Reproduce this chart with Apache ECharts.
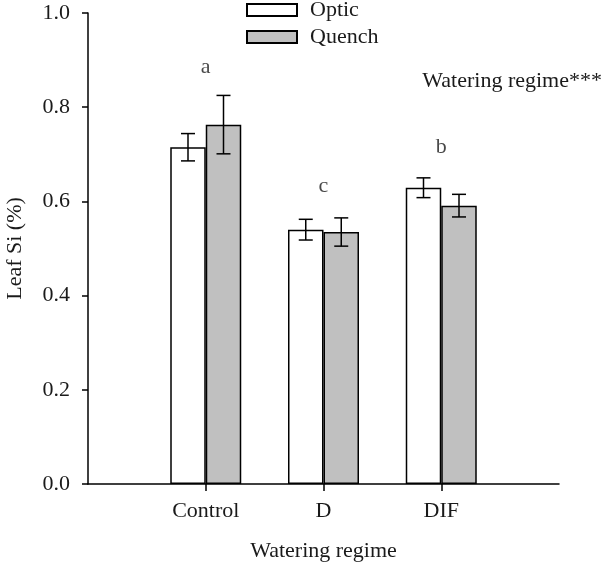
<!DOCTYPE html>
<html>
<head>
<meta charset="utf-8">
<script src="https://cdn.jsdelivr.net/npm/echarts@6/dist/echarts.min.js"></script>
<style>html,body{margin:0;padding:0;background:#fff;}#c{width:603px;height:563px;}</style>
</head>
<body>
<div id="c"></div>
<script>
const categories = ['Control', 'D', 'DIF'];
const opticValues = [0.715, 0.540, 0.629];
const opticErrors = [0.029, 0.022, 0.021];
const quenchValues = [0.763, 0.535, 0.591];
const quenchErrors = [0.062, 0.030, 0.024];
const groupLetters = ['a', 'c', 'b'];
const letterHeights = [0.885, 0.633, 0.716];
const yTicks = [0, 0.2, 0.4, 0.6, 0.8, 1.0];

const FONT = '"Liberation Serif", "Times New Roman", serif';
const TXT = '#1a1a1a';
const BAR_W = 35.5;

const axisCats = [''].concat(categories, ['']);
const pad = arr => ['-'].concat(arr, ['-']);

const errData = [];
categories.forEach((c, i) => {
  errData.push([i + 1, opticValues[i], opticErrors[i], -1]);
  errData.push([i + 1, quenchValues[i], quenchErrors[i], 1]);
});

const chart = echarts.init(document.getElementById('c'), null, {renderer: 'canvas'});
chart.setOption({
  animation: false,
  backgroundColor: '#fff',
  grid: {left: 88, right: 44, top: 13, bottom: 79, containLabel: false, outerBoundsMode: 'none'},
  legend: {
    orient: 'vertical', left: 246, top: -1, padding: 0,
    icon: 'rect',
    itemWidth: 50, itemHeight: 12, itemGap: 5,
    data: ['Optic', 'Quench'],
    textStyle: {fontFamily: FONT, fontSize: 22, color: TXT, padding: [0, 0, 0, 8]}
  },
  xAxis: {
    type: 'category', data: axisCats, boundaryGap: false,
    axisLine: {lineStyle: {color: '#000', width: 1.5}},
    axisTick: {show: true, length: 7, inside: false, lineStyle: {color: '#000', width: 1.5},
      interval: (idx) => idx > 0 && idx < axisCats.length - 1},
    axisLabel: {margin: 16, fontFamily: FONT, fontSize: 22, color: TXT,
      interval: (idx) => idx > 0 && idx < axisCats.length - 1},
    name: 'Watering regime', nameLocation: 'middle', nameGap: 56,
    nameTextStyle: {fontFamily: FONT, fontSize: 22, color: TXT},
    splitLine: {show: false}
  },
  yAxis: {
    type: 'value', min: 0, max: 1, interval: 0.2,
    axisLine: {show: true, lineStyle: {color: '#000', width: 1.5}},
    axisTick: {show: true, length: 6, inside: false, lineStyle: {color: '#000', width: 1.5}},
    axisLabel: {margin: 18, fontFamily: FONT, fontSize: 22, color: TXT,
      formatter: v => v.toFixed(1)},
    splitLine: {show: false},
    name: 'Leaf Si (%)', nameLocation: 'middle', nameGap: 62,
    nameTextStyle: {fontFamily: FONT, fontSize: 22, color: TXT}
  },
  series: [
    {
      name: 'Optic', type: 'bar', data: pad(opticValues), barWidth: BAR_W, barGap: '0%',
      itemStyle: {color: '#ffffff', borderColor: '#000', borderWidth: 1.5}
    },
    {
      name: 'Quench', type: 'bar', data: pad(quenchValues), barWidth: BAR_W, barGap: '0%',
      itemStyle: {color: '#c0c0c0', borderColor: '#000', borderWidth: 1.5}
    },
    {
      type: 'custom', data: errData, z: 10,
      renderItem: function (params, api) {
        const idx = api.value(0), v = api.value(1), e = api.value(2), s = api.value(3);
        const x = api.coord([idx, v])[0] + s * BAR_W / 2;
        const yt = api.coord([idx, v + e])[1];
        const yb = api.coord([idx, v - e])[1];
        const cap = 7;
        const st = {stroke: '#000', lineWidth: 1.5};
        return {type: 'group', children: [
          {type: 'line', shape: {x1: x, y1: yt, x2: x, y2: yb}, style: st},
          {type: 'line', shape: {x1: x - cap, y1: yt, x2: x + cap, y2: yt}, style: st},
          {type: 'line', shape: {x1: x - cap, y1: yb, x2: x + cap, y2: yb}, style: st}
        ]};
      }
    },
    {
      type: 'scatter', symbolSize: 1, itemStyle: {color: 'rgba(0,0,0,0)'},
      data: categories.map((c, i) => [i + 1, letterHeights[i]]),
      label: {show: true, position: 'inside', fontFamily: FONT, fontSize: 22, color: TXT,
        formatter: p => groupLetters[p.dataIndex]}
    }
  ],
  graphic: [
    {type: 'text', right: 1, top: 70,
      style: {text: 'Watering regime***', font: '22px ' + FONT, fill: TXT}}
  ]
});
</script>
</body>
</html>
